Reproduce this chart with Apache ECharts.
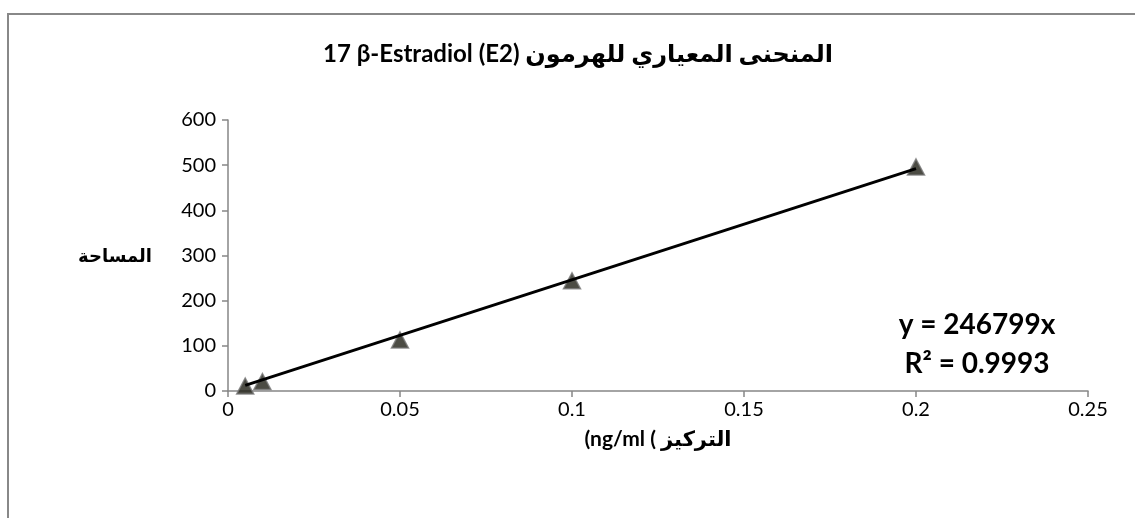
<!DOCTYPE html>
<html>
<head>
<meta charset="utf-8">
<script src="https://cdn.jsdelivr.net/npm/echarts@6/dist/echarts.min.js"></script>
<style>
  html, body { margin: 0; padding: 0; background: #ffffff; }
  #chart { width: 1135px; height: 518px; }
</style>
</head>
<body>
<div id="chart"></div>
<script>
// Calibration standards: concentration (ng/ml) and measured peak area
const concentrations = [0.005, 0.01, 0.05, 0.1, 0.2];
const areas = [11, 21, 113, 244, 496];

const xTicks = [0, 0.05, 0.1, 0.15, 0.2, 0.25];
const yTicks = [0, 100, 200, 300, 400, 500, 600];

const titleText = '17 β-Estradiol (E2) المنحنى المعياري للهرمون';
const xAxisName = '(ng/ml ( التركيز';
const yAxisName = 'المساحة';
const equationText = 'y = 246799x';
const rSquaredText = 'R² = 0.9993';

// Least-squares line forced through the origin
let sxy = 0, sxx = 0;
concentrations.forEach((x, i) => { sxy += x * areas[i]; sxx += x * x; });
const slope = sxy / sxx;
const xFirst = concentrations[0];
const xLast = concentrations[concentrations.length - 1];
const trendLine = [[xFirst, slope * xFirst], [xLast, slope * xLast]];

const FONT = 'Lato, "DejaVu Sans", sans-serif';
const axisGray = '#868686';

const chart = echarts.init(document.getElementById('chart'), null, { renderer: 'canvas' });

chart.setOption({
  backgroundColor: '#ffffff',
  animation: false,
  grid: { left: 228, right: 47, top: 120, bottom: 127, containLabel: false },
  xAxis: {
    type: 'value',
    min: xTicks[0],
    max: xTicks[xTicks.length - 1],
    interval: 0.05,
    name: xAxisName,
    nameLocation: 'middle',
    nameGap: 38,
    nameTextStyle: { fontFamily: FONT, fontWeight: 'bold', fontSize: 21, color: '#000' },
    axisLine: { show: true, onZero: false, lineStyle: { color: axisGray, width: 1.5 } },
    axisTick: { show: true, inside: false, length: 6, lineStyle: { color: axisGray, width: 1.5 } },
    axisLabel: {
      fontFamily: FONT, fontSize: 20, color: '#000', margin: 9,
      formatter: v => String(parseFloat(v.toFixed(2)))
    },
    splitLine: { show: false }
  },
  yAxis: {
    type: 'value',
    min: yTicks[0],
    max: yTicks[yTicks.length - 1],
    interval: 100,
    axisLine: { show: true, lineStyle: { color: axisGray, width: 1.5 } },
    axisTick: { show: true, inside: false, length: 6, lineStyle: { color: axisGray, width: 1.5 } },
    axisLabel: { fontFamily: FONT, fontSize: 20, color: '#000', margin: 12 },
    splitLine: { show: false }
  },
  graphic: [
    {
      type: 'rect',
      shape: { x: 8, y: 14, width: 1300, height: 700 },
      style: { fill: 'none', stroke: '#888888', lineWidth: 2 },
      silent: true, z: -10
    },
    {
      type: 'text', x: 578, y: 54,
      style: {
        text: titleText, fontFamily: FONT, fontWeight: 'bold', fontSize: 24,
        fill: '#000', textAlign: 'center', textVerticalAlign: 'middle'
      }
    },
    {
      type: 'text', x: 152, y: 256,
      style: {
        text: yAxisName, fontFamily: FONT, fontWeight: 'bold', fontSize: 18,
        fill: '#000', textAlign: 'right', textVerticalAlign: 'middle'
      }
    },
    {
      type: 'text', x: 977, y: 325,
      style: {
        text: equationText, fontFamily: FONT, fontWeight: 'bold', fontSize: 28,
        fill: '#000', textAlign: 'center', textVerticalAlign: 'middle'
      }
    },
    {
      type: 'text', x: 977, y: 364,
      style: {
        text: rSquaredText, fontFamily: FONT, fontWeight: 'bold', fontSize: 28,
        fill: '#000', textAlign: 'center', textVerticalAlign: 'middle'
      }
    }
  ],
  series: [
    {
      name: 'Standards',
      type: 'scatter',
      data: concentrations.map((x, i) => [x, areas[i]]),
      symbol: 'triangle',
      symbolSize: [17, 16],
      itemStyle: { color: '#1f1f15', borderColor: '#777777', borderWidth: 1.5 },
      z: 2
    },
    {
      name: 'Linear fit',
      type: 'line',
      data: trendLine,
      showSymbol: false,
      symbol: 'none',
      lineStyle: { color: '#000000', width: 3 },
      z: 3
    }
  ]
});
</script>
</body>
</html>
